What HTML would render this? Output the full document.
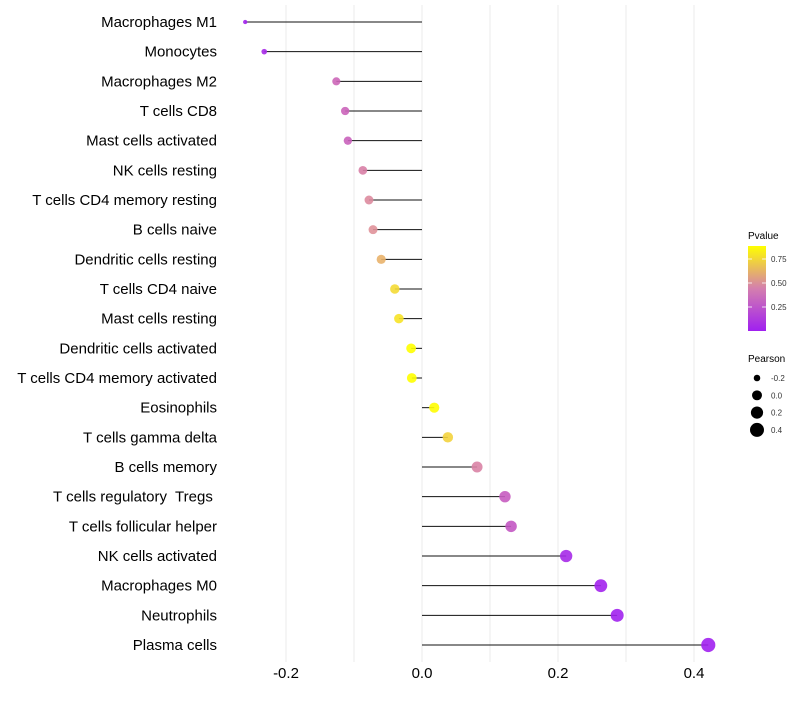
<!DOCTYPE html>
<html><head><meta charset="utf-8"><style>
body{margin:0;background:#fff;font-family:"Liberation Sans",sans-serif}
</style></head><body>
<svg id="c" width="800" height="700" xmlns="http://www.w3.org/2000/svg" font-family="Liberation Sans, sans-serif">
<defs><linearGradient id="pg" x1="0" y1="1" x2="0" y2="0">
<stop offset="0" stop-color="#A020F0"/><stop offset="0.5" stop-color="#D47FAE"/><stop offset="1" stop-color="#FFFF00"/>
</linearGradient></defs>
<g id="grid"></g>
<g id="marks"></g>
<g id="ylab"></g>
<g id="xlab"></g>
<g>
<text x="748" y="239" font-size="10" fill="#000">Pvalue</text>
<rect x="748" y="246" width="18" height="85" fill="url(#pg)"/>
<g id="cbt"></g>
</g>
<g id="sizeleg">
<text x="748" y="362" font-size="10" fill="#000">Pearson</text>
</g>
</svg>
<script>
const categories=["Macrophages M1","Monocytes","Macrophages M2","T cells CD8","Mast cells activated","NK cells resting","T cells CD4 memory resting","B cells naive","Dendritic cells resting","T cells CD4 naive","Mast cells resting","Dendritic cells activated","T cells CD4 memory activated","Eosinophils","T cells gamma delta","B cells memory","T cells regulatory  Tregs ","T cells follicular helper","NK cells activated","Macrophages M0","Neutrophils","Plasma cells"];
const pearson=[-0.260,-0.232,-0.126,-0.113,-0.109,-0.087,-0.078,-0.072,-0.060,-0.040,-0.034,-0.016,-0.015,0.018,0.038,0.081,0.122,0.131,0.212,0.263,0.287,0.421];
const pvalue=[0.02,0.05,0.35,0.34,0.33,0.47,0.52,0.55,0.65,0.77,0.80,0.90,0.92,0.88,0.75,0.48,0.30,0.28,0.05,0.02,0.01,0.005];
const xTicks=[-0.2,0.0,0.2,0.4];
const xTickLabels=["-0.2","0.0","0.2","0.4"];
const xMinor=[-0.1,0.1,0.3];
const cbTicks=[0.25,0.50,0.75];
const cbTickLabels=["0.25","0.50","0.75"];
const sizeLegend=[-0.2,0.0,0.2,0.4];
const sizeLegendLabels=["-0.2","0.0","0.2","0.4"];
const NS="http://www.w3.org/2000/svg";
const x=v=>422+v*680;
const y=i=>22+i*(623/21);
const r=v=>1.5+Math.sqrt(45*Math.max(0,v+0.27));
const cbY=p=>331-p*96;
function hex(h){return [1,3,5].map(i=>parseInt(h.substr(i,2),16));}
const stops=[[0,hex("#A020F0")],[0.35,hex("#CC66B8")],[0.55,hex("#E0929A")],[0.885,hex("#FFFF00")]];
function col(p){p=Math.max(0,Math.min(0.885,p));for(let k=0;k<stops.length-1;k++){const a=stops[k],b=stops[k+1];if(p<=b[0]){const t=(p-a[0])/(b[0]-a[0]);const c=a[1].map((v,j)=>Math.round(v+(b[1][j]-v)*t));return `rgb(${c.join(",")})`;}}return "#FFFF00";}
function mk(t,a,parent){const e=document.createElementNS(NS,t);for(const k in a)e.setAttribute(k,a[k]);document.getElementById(parent).appendChild(e);return e;}
xTicks.concat(xMinor).forEach(v=>{const l=mk("line",{x1:x(v),x2:x(v),y1:5,y2:662,stroke:"#ebebeb","stroke-width":1},"grid");

});
xTicks.forEach((v,i)=>{const t=mk("text",{x:x(v),y:678,"font-size":15,"text-anchor":"middle",fill:"#000"},"xlab");t.textContent=xTickLabels[i];

});
categories.forEach((c,i)=>{
const t=mk("text",{x:217,y:y(i)+5,"font-size":15,"text-anchor":"end",fill:"#000",style:"white-space:pre"},"ylab");t.textContent=c;


const l=mk("line",{x1:x(0),x2:x(pearson[i]),y1:y(i),y2:y(i),stroke:"#111","stroke-width":1},"marks");


const d=mk("circle",{cx:x(pearson[i]),cy:y(i),r:r(pearson[i]),fill:col(pvalue[i]),"fill-opacity":0.9},"marks");


});
cbTicks.forEach((p,i)=>{mk("line",{x1:748,x2:752,y1:cbY(p),y2:cbY(p),stroke:"#fff","stroke-width":0.8},"cbt");mk("line",{x1:762,x2:766,y1:cbY(p),y2:cbY(p),stroke:"#fff","stroke-width":0.8},"cbt");
const t=mk("text",{x:771,y:cbY(p)+3,"font-size":8,fill:"#333"},"cbt");t.textContent=cbTickLabels[i];

});
sizeLegend.forEach((v,i)=>{const cy=378+i*17.3;
const c=mk("circle",{cx:757,cy:cy,r:r(v),fill:"#000"},"sizeleg");


const t=mk("text",{x:771,y:cy+3,"font-size":8,fill:"#333"},"sizeleg");t.textContent=sizeLegendLabels[i];

});
</script>
</body></html>
